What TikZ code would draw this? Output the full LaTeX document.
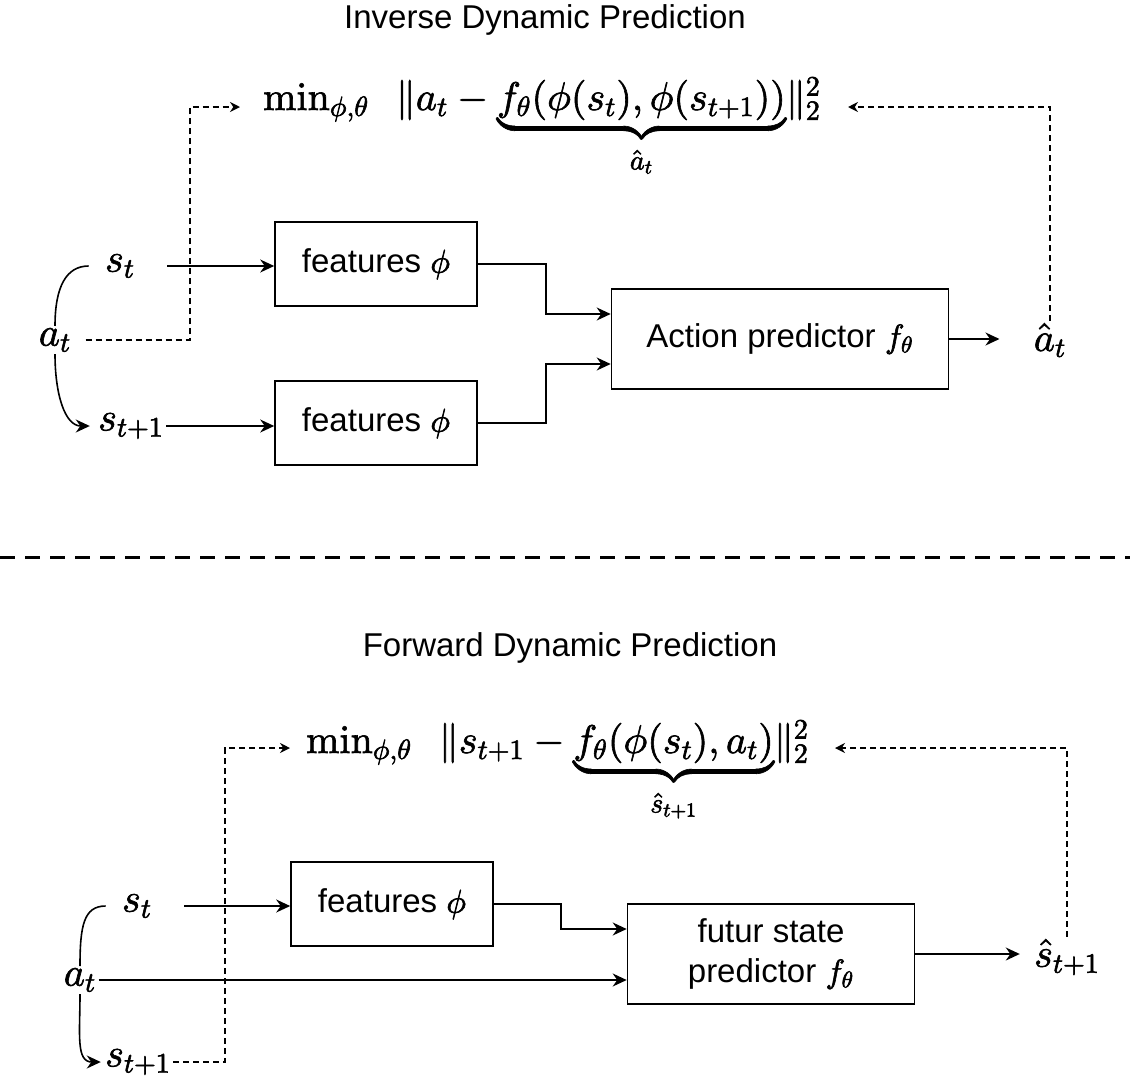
\documentclass[tikz,border=0pt]{standalone}
\usepackage[no-math]{fontspec}
\setmainfont{Liberation Sans}
\DeclareFontShape{OT1}{cmr}{m}{n}{<->cmr10}{}
\DeclareFontShape{OML}{cmm}{m}{it}{<->cmmi10}{\skewchar\font'177}
\DeclareFontShape{OMS}{cmsy}{m}{n}{<->cmsy10}{\skewchar\font'60}
\DeclareFontShape{OMX}{cmex}{m}{n}{<->cmex10}{}
\newcommand\heavy{\special{pdf:literal direct 2 Tr 0.3 w}}
\usetikzlibrary{arrows.meta}
\tikzset{
  blk/.style={draw, line width=0.8pt, minimum width=101pt, minimum height=42pt,
    inner sep=0pt, align=center, font=\fontsize{16.5}{20}\selectfont},
  var/.style={inner sep=1pt, font=\fontsize{20}{24}\selectfont},
  ttl/.style={inner sep=0pt, font=\fontsize{16.5}{20}\selectfont},
  link/.style={line width=0.8pt, -{Stealth[length=7pt,width=6.5pt]}},
  fb/.style={line width=0.7pt, dash pattern=on 3pt off 2pt, -{Stealth[length=5pt,width=5pt]}},
}
\begin{document}
\begin{tikzpicture}[x=0.5pt,y=-0.5pt]
  \useasboundingbox (0,0) rectangle (1130,1082);
  % inverse dynamics
  \node[ttl] (title1) at (545,20) {Inverse Dynamic Prediction};
  \node[var,anchor=base] (loss1) at (542,110)
    {\(\heavy\min_{\phi,\theta}\hspace{0.5em} \|a_t - {\underbrace{f_\theta(\phi(s_t),\phi(s_{t+1}))}_{\rule{0pt}{13pt}\hat a_t}}\|_2^2\)};
  \coordinate (lossL1) at (240,107);
  \coordinate (lossR1) at (848,107);
  \node[var] (st1) at (120,266) {\(\heavy s_t\)};
  \node[var] (at1) at (55,340) {\(\heavy a_t\)};
  \node[var] (stp1) at (131,426) {\(\heavy s_{t+1}\)};
  \node[blk] (feat1) at (376,264) {features \(\heavy\phi\)};
  \node[blk] (feat2) at (376,423) {features \(\heavy\phi\)};
  \node[blk, minimum width=168.5pt, minimum height=50pt] (pred1) at (780,339) {Action predictor \(\heavy f_\theta\)};
  \node[var] (ahat) at (1050,340) {\(\heavy\hat a_t\)};

  \draw[line width=0.8pt] (at1.north) .. controls +(0,-40) and +(-22,0) .. ([xshift=-7pt]st1.west);
  \draw[link] (at1.south) .. controls +(0,40) and +(-25,0) .. ([xshift=-3pt]stp1.west);
  \draw[link, shorten <=15pt] (st1.east) -- (st1.east -| feat1.west);
  \draw[link] (stp1.east) -- (stp1.east -| feat2.west);
  \draw[link] (feat1.east) -- ++(68,0) |- ([yshift=12.5pt]pred1.west);
  \draw[link] (feat2.east) -- ++(68,0) |- ([yshift=-12.5pt]pred1.west);
  \draw[link, shorten >=16pt] (pred1.east) -- (pred1.east -| ahat.west);
  \draw[fb, shorten <=6pt] (at1.east) -| ([xshift=-25pt]lossL1) -- (lossL1);
  \draw[fb] (ahat.north) |- (lossR1);

  \draw[line width=1.5pt, dash pattern=on 7.5pt off 5pt] (0,557) -- (1130,557);

  % forward dynamics
  \node[ttl] (title2) at (570,648) {Forward Dynamic Prediction};
  \node[var,anchor=base] (loss2) at (557.5,753)
    {\(\heavy\min_{\phi,\theta}\hspace{0.5em} \|s_{t+1} - {\underbrace{f_\theta(\phi(s_t),a_t)}_{\rule{0pt}{13pt}\hat s_{t+1}}}\|_2^2\)};
  \coordinate (lossL2) at (290,748);
  \coordinate (lossR2) at (835,748);
  \node[var] (st2) at (137,906) {\(\heavy s_t\)};
  \node[var] (at2) at (80,980) {\(\heavy a_t\)};
  \node[var] (stp2) at (138,1062) {\(\heavy s_{t+1}\)};
  \node[blk] (feat3) at (392,904) {features \(\heavy\phi\)};
  \node[blk, minimum width=143.5pt, minimum height=50pt] (pred2) at (771,954) {futur state\\predictor \(\heavy f_\theta\)};
  \node[var] (shat) at (1067,957) {\(\heavy\hat s_{t+1}\)};

  \draw[line width=0.8pt] (at2.north) .. controls +(0,-40) and +(-22,0) .. ([xshift=-7pt]st2.west);
  \draw[link] (at2.south) .. controls +(0,40) and +(-25,0) .. ([xshift=-1pt]stp2.west);
  \draw[link, shorten <=15pt] (st2.east) -- (st2.east -| feat3.west);
  \draw[link] (feat3.east) -- ++(67,0) |- ([yshift=12.5pt]pred2.west);
  \draw[link] (at2.east) -- (at2.east -| pred2.west);
  \draw[link, shorten >=6pt] (pred2.east) -- (pred2.east -| shat.west);
  \draw[fb] (stp2.east) -| ([xshift=-32.5pt]lossL2) -- (lossL2);
  \draw[fb] (shat.north) |- (lossR2);
\end{tikzpicture}
\end{document}
